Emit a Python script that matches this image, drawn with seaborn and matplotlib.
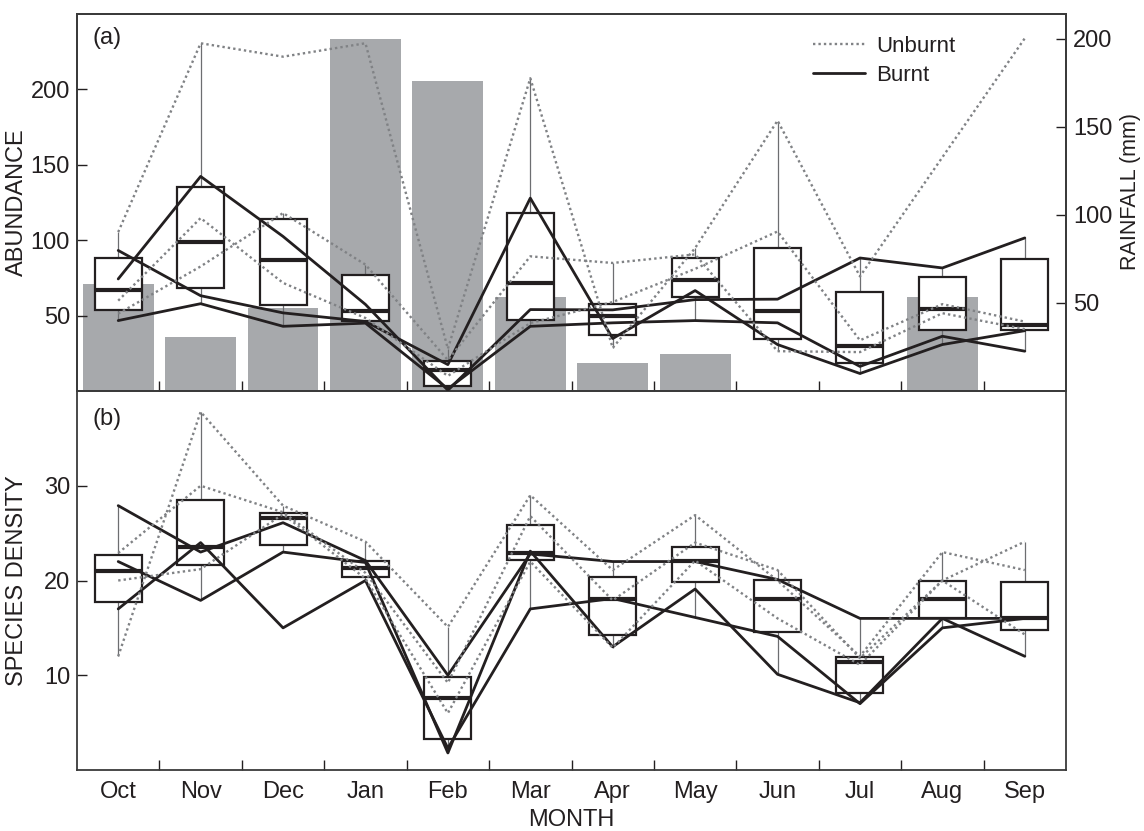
import numpy as np
import pandas as pd
import matplotlib
matplotlib.use("Agg")
import matplotlib.pyplot as plt
from matplotlib.lines import Line2D
from matplotlib.ticker import FixedLocator
import seaborn as sns

sns.set_theme(style="white")
plt.rcParams["font.family"] = ["Liberation Sans", "DejaVu Sans"]
plt.rcParams["font.size"] = 17

months = ["Oct", "Nov", "Dec", "Jan", "Feb", "Mar", "Apr", "May", "Jun", "Jul", "Aug", "Sep"]

# monthly rainfall (mm); no bar for Jun, Jul, Sep
rainfall = [61, 30.5, 47, 200, 176, 53.5, 16, 21, np.nan, np.nan, 53.5, np.nan]

# (a) abundance per site
abund_unburnt_1 = [105.4, 230.6, 221.7, 230.6, 28.0, 207.4, 28.6, 94.8, 179.3, 76.0, 155.0, 233.9]
abund_unburnt_2 = [59.9, 114.7, 71.7, 48.4, 10.0, 45.0, 59.0, 81.0, 105.8, 33.6, 57.6, 46.0]
abund_unburnt_3 = [51.3, 82.6, 118.0, 83.8, 20.5, 89.3, 84.9, 90.6, 26.4, 25.8, 51.6, 41.0]
abund_burnt_1 = [93.2, 63.2, 51.8, 46.1, 17.5, 127.9, 34.8, 66.6, 30.8, 11.6, 30.8, 40.0]
abund_burnt_2 = [74.3, 142.3, 102.5, 57.4, 0.5, 54.0, 53.8, 60.6, 60.9, 88.2, 81.6, 101.5]
abund_burnt_3 = [46.7, 57.9, 42.9, 45.0, 1.4, 42.9, 45.2, 46.7, 45.2, 16.3, 36.3, 26.4]

# (b) species density per site
dens_unburnt_1 = [12.0, 37.8, 27.9, 24.1, 15.1, 29.0, 21.1, 26.9, 20.0, 12.0, 23.0, 21.1]
dens_unburnt_2 = [22.9, 30.0, 27.2, 20.8, 9.2, 26.8, 17.9, 24.0, 21.1, 11.8, 20.0, 24.1]
dens_unburnt_3 = [20.0, 21.2, 27.0, 20.2, 6.0, 22.0, 12.9, 22.1, 16.0, 11.1, 20.0, 14.3]
dens_burnt_1 = [27.9, 23.0, 26.1, 22.1, 10.0, 22.8, 22.0, 22.0, 20.1, 16.0, 16.0, 16.0]
dens_burnt_2 = [22.0, 17.9, 23.0, 21.9, 1.8, 23.1, 13.0, 19.1, 10.1, 7.1, 16.0, 12.0]
dens_burnt_3 = [17.0, 24.0, 15.0, 20.0, 2.3, 17.0, 18.1, 16.1, 14.1, 7.0, 15.0, 16.0]

INK = "#231f20"
DOT = "#808285"
BAR = "#a7a9ac"
DOTSTYLE = (0, (1.0, 1.3))


def long_table(unburnt, burnt):
    rows = []
    for treat, group in (("Unburnt", unburnt), ("Burnt", burnt)):
        for k, series in enumerate(group):
            for i, v in enumerate(series):
                rows.append({"pos": i, "month": months[i], "value": v,
                             "site": f"{treat}{k}", "treatment": treat})
    return pd.DataFrame(rows)


abund = long_table([abund_unburnt_1, abund_unburnt_2, abund_unburnt_3],
                   [abund_burnt_1, abund_burnt_2, abund_burnt_3])
dens = long_table([dens_unburnt_1, dens_unburnt_2, dens_unburnt_3],
                  [dens_burnt_1, dens_burnt_2, dens_burnt_3])
rain = pd.DataFrame({"month": months, "rain": rainfall})

W, H = 1144, 831
fig = plt.figure(figsize=(W / 100, H / 100), dpi=100)
L, R = 77 / W, 1066 / W
yb_top, ymid, ytop = 1 - 770 / H, 1 - 391 / H, 1 - 14 / H
ax_a = fig.add_axes([L, ymid, R - L, ytop - ymid])
ax_b = fig.add_axes([L, yb_top, R - L, ymid - yb_top], sharex=ax_a)
ax_r = ax_a.twinx()


def draw_panel(ax, df):
    sns.boxplot(data=df, x="month", y="value", order=months, ax=ax,
                width=0.57, whis=1.5, showfliers=False, showcaps=False,
                color="white", linecolor=INK, linewidth=1.6,
                boxprops=dict(facecolor="white", edgecolor=INK, linewidth=1.6, zorder=2),
                medianprops=dict(color=INK, linewidth=3.0, zorder=2.1),
                whiskerprops=dict(color="#6d6e71", linewidth=0.9, zorder=1.9))
    for site, g in df.groupby("site"):
        unb = g["treatment"].iloc[0] == "Unburnt"
        sns.lineplot(data=g, x="pos", y="value", ax=ax, estimator=None,
                     color=DOT if unb else INK,
                     linewidth=1.7 if unb else 2.0,
                     linestyle=DOTSTYLE if unb else "-",
                     legend=False, zorder=3)


# rainfall bars behind everything on the right-hand axis
sns.barplot(data=rain, x="month", y="rain", order=months, ax=ax_r,
            color=BAR, saturation=1, width=0.86, linewidth=0, zorder=0)
ax_a.set_zorder(ax_r.get_zorder() + 1)
ax_a.patch.set_visible(False)

draw_panel(ax_a, abund)
draw_panel(ax_b, dens)

for ax in (ax_a, ax_b, ax_r):
    ax.set_xlim(-0.5, 11.5)
ax_a.set_ylim(0, 250)
ax_r.set_ylim(0, 214)
ax_b.set_ylim(0, 40)

ax_a.set_yticks([50, 100, 150, 200])
ax_r.set_yticks([50, 100, 150, 200])
ax_b.set_yticks([10, 20, 30])

for ax in (ax_a, ax_b):
    ax.set_xticks(range(12))
    ax.xaxis.set_minor_locator(FixedLocator(np.arange(0.5, 11, 1)))
    ax.tick_params(axis="x", which="major", length=0, pad=8)
    ax.tick_params(axis="x", which="minor", length=7, width=1, direction="in",
                   color=INK, bottom=True)
    ax.tick_params(axis="y", which="major", length=7, width=1, direction="in",
                   color=INK, left=True, pad=5, labelsize=17, labelcolor=INK)
    for sp in ax.spines.values():
        sp.set_color("#3a3a3a")
        sp.set_linewidth(1.3)
        sp.set_visible(True)
    ax.set_xlabel("")
    ax.grid(False)

ax_r.tick_params(axis="y", which="major", length=7, width=1, direction="in",
                 color=INK, right=True, pad=5, labelsize=17, labelcolor=INK)
ax_r.tick_params(axis="x", which="both", length=0, labelbottom=False)
ax_r.set_xlabel("")
for sp in ax_r.spines.values():
    sp.set_color("#3a3a3a")
    sp.set_linewidth(1.3)

ax_a.tick_params(axis="x", labelbottom=False)
ax_b.set_xticklabels(months)
ax_b.tick_params(axis="x", labelsize=17, labelcolor=INK)
ax_b.spines["top"].set_visible(False)

ax_a.set_ylabel("ABUNDANCE", fontsize=17, color=INK)
ax_a.yaxis.set_label_coords((28 - 77) / 989, 0.5)
ax_b.set_ylabel("SPECIES DENSITY", fontsize=17, color=INK)
ax_b.yaxis.set_label_coords((28 - 77) / 989, 0.5)
ax_r.set_ylabel("RAINFALL (mm)", fontsize=15.5, color=INK)
ax_r.yaxis.set_label_coords((1120 - 77) / 989, (391 - 192) / 377)
ax_b.set_xlabel("MONTH", fontsize=17, color=INK, labelpad=4)

ax_a.text(0.016, 0.965, "(a)", transform=ax_a.transAxes, ha="left", va="top",
          fontsize=17, color=INK)
ax_b.text(0.016, 0.955, "(b)", transform=ax_b.transAxes, ha="left", va="top",
          fontsize=17, color=INK)

handles = [Line2D([], [], color=DOT, linestyle=DOTSTYLE, linewidth=1.7),
           Line2D([], [], color=INK, linestyle="-", linewidth=2.0)]
ax_a.legend(handles, ["Unburnt", "Burnt"], loc="upper left",
            bbox_to_anchor=(0.733, 0.972), frameon=False, borderpad=0,
            handlelength=2.35, handletextpad=0.5, labelspacing=0.38,
            fontsize=16, labelcolor=INK)

fig.savefig("out.png", dpi=100)
